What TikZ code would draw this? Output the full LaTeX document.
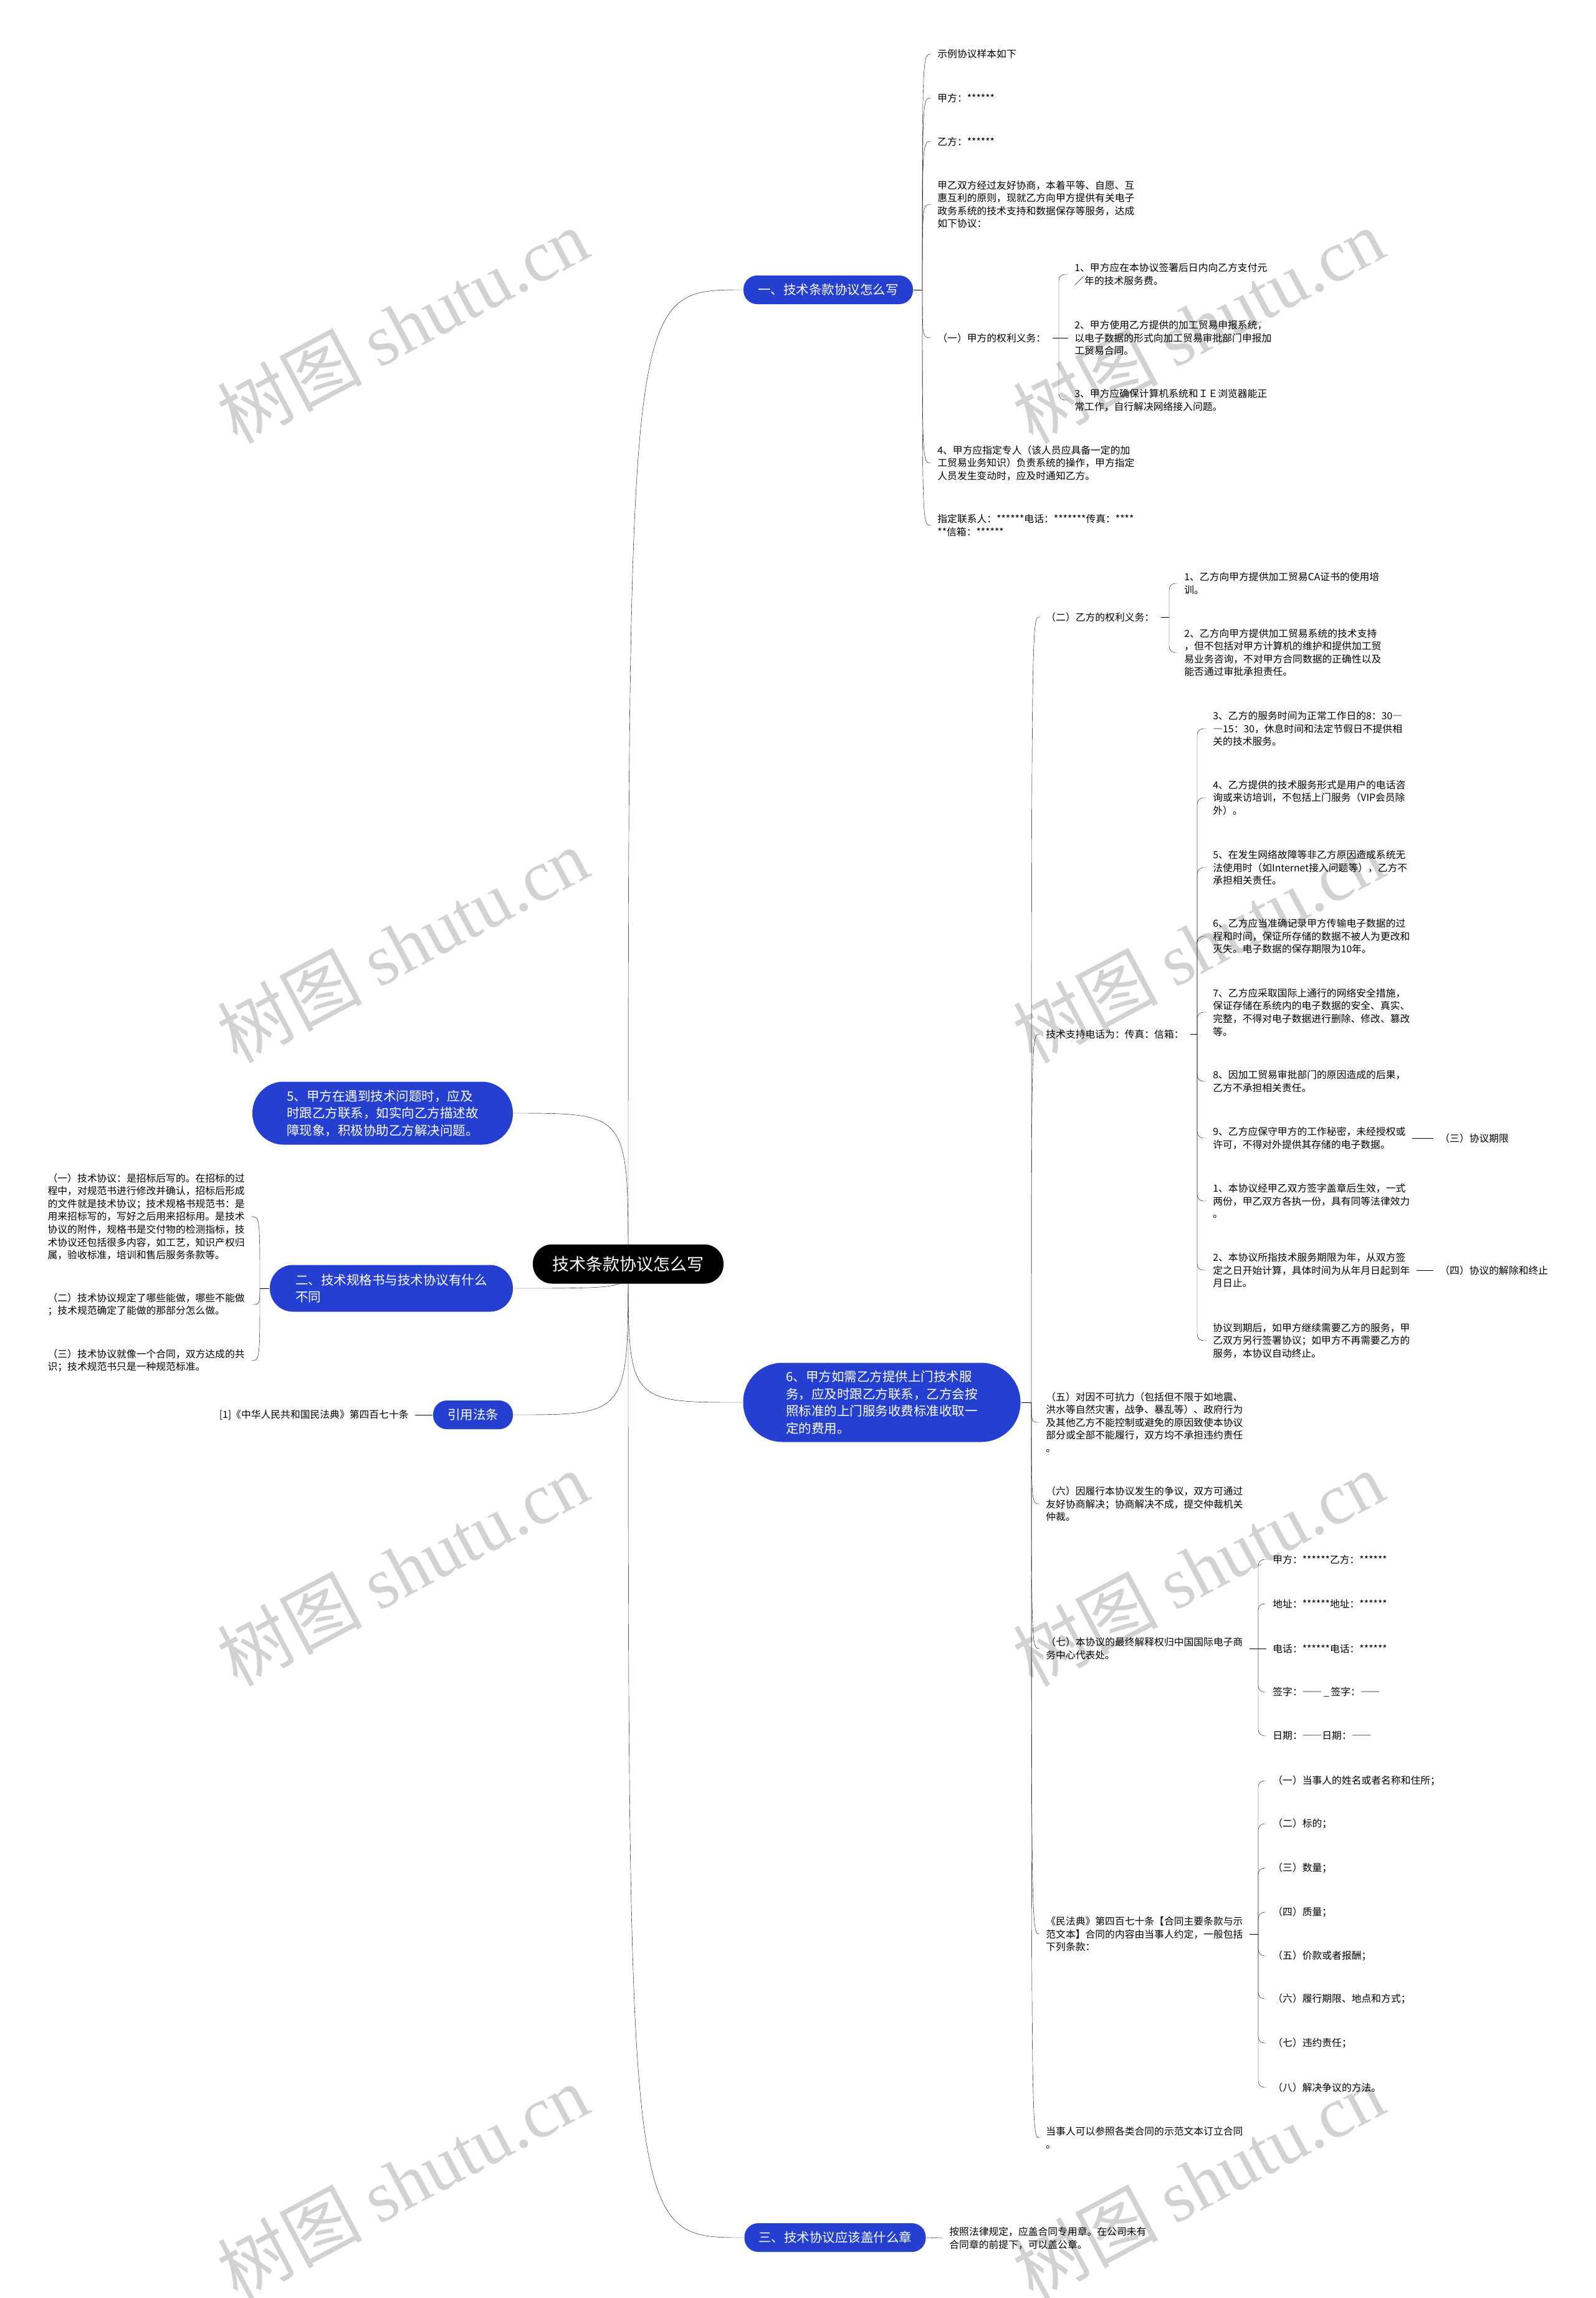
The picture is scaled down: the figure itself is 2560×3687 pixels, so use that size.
\documentclass[tikz,border=0pt]{standalone}
\usepackage{fontspec}
\setmainfont{Noto Sans CJK SC}
\newfontfamily\wmfont{Liberation Serif}
\newfontfamily\dashfont{Noto Sans CJK SC}[RawFeature=+fwid]
\usetikzlibrary{backgrounds}

\definecolor{topicblue}{RGB}{37,64,209}
\definecolor{wmgray}{RGB}{210,210,210}

\begin{document}
\begin{tikzpicture}[x=1pt,y=-1pt,line width=2.8pt,
    rootbox/.style={fill=black,text=white,font=\fontsize{27}{32}\selectfont,
      minimum width=306pt,minimum height=63pt,rounded corners=31pt,inner sep=0pt},
    topic/.style={fill=topicblue,text=white,font=\fontsize{20.5}{27.5}\selectfont,
      align=left,inner sep=0pt},
    leaf/.style={font=\fontsize{15.8}{20.6}\selectfont,align=left,
      inner xsep=9pt,inner ysep=1pt,anchor=west},
    wmark/.style={text=wmgray,font=\fontsize{116}{116}\selectfont,rotate=28,inner sep=0pt},
    arm/.style={to path={.. controls (\tikztostart|-\tikztotarget) .. (\tikztotarget)}},
    brace/.style={rounded corners=10pt,to path={|- (\tikztotarget)}}]

  % Khung
  \useasboundingbox (0,0) rectangle (2560,3687);

  % Nút gốc
  \node[rootbox] (root) at (1008,2028) {技术条款协议怎么写};

  % Các chủ đề
  \node[topic,minimum width=272pt,minimum height=46pt,rounded corners=22pt] (b1) at (1329,465) {一、技术条款协议怎么写};
  \node[topic,minimum width=418pt,minimum height=101pt,rounded corners=50pt] (b5) at (614,1786)
    {5、甲方在遇到技术问题时，应及\\时跟乙方联系，如实向乙方描述故\\障现象，积极协助乙方解决问题。};
  \node[topic,minimum width=390pt,minimum height=75pt,rounded corners=37pt] (b2) at (628,2067)
    {二、技术规格书与技术协议有什么\\不同};
  \node[topic,minimum width=128pt,minimum height=46pt,rounded corners=22pt] (bref) at (759,2270) {引用法条};
  \node[topic,minimum width=445pt,minimum height=127pt,rounded corners=63pt] (b6) at (1415,2250)
    {6、甲方如需乙方提供上门技术服\\务，应及时跟乙方联系，乙方会按\\照标准的上门服务收费标准收取一\\定的费用。};
  \node[topic,minimum width=291pt,minimum height=46pt,rounded corners=22pt] (b3) at (1340,3590) {三、技术协议应该盖什么章};

  % Nhánh một
  \coordinate (s1) at (1480,465);
  \node[leaf] (c1a) at (1494,87) {示例协议样本如下};
  \node[leaf] (c1b) at (1494,157) {甲方：******};
  \node[leaf] (c1c) at (1494,227) {乙方：******};
  \node[leaf] (c1d) at (1494,328) {甲乙双方经过友好协商，本着平等、自愿、互\\惠互利的原则，现就乙方向甲方提供有关电子\\政务系统的技术支持和数据保存等服务，达成\\如下协议：};
  \node[leaf] (c1e) at (1494,542) {（一）甲方的权利义务：};
  \node[leaf] (c1f) at (1494,743) {4、甲方应指定专人（该人员应具备一定的加\\工贸易业务知识）负责系统的操作，甲方指定\\人员发生变动时，应及时通知乙方。};
  \node[leaf] (c1g) at (1494,843) {指定联系人：******电话：*******传真：****\\{}**信箱：******};

  \coordinate (sA) at (1699,542);
  \node[leaf] (a1) at (1714,440) {1、甲方应在本协议签署后日内向乙方支付元\\／年的技术服务费。};
  \node[leaf] (a2) at (1714,542) {2、甲方使用乙方提供的加工贸易申报系统，\\以电子数据的形式向加工贸易审批部门申报加\\工贸易合同。};
  \node[leaf] (a3) at (1714,642) {3、甲方应确保计算机系统和ＩＥ浏览器能正\\常工作，自行解决网络接入问题。};

  % Nhánh sáu
  \coordinate (s6) at (1655,2250);
  \node[leaf] (c6a) at (1668,990) {（二）乙方的权利义务：};
  \node[leaf] (c6b) at (1668,1659) {技术支持电话为：传真：信箱：};
  \node[leaf] (c6c) at (1668,2282) {（五）对因不可抗力（包括但不限于如地震、\\洪水等自然灾害，战争、暴乱等）、政府行为\\及其他乙方不能控制或避免的原因致使本协议\\部分或全部不能履行，双方均不承担违约责任\\。};
  \node[leaf] (c6d) at (1668,2413) {（六）因履行本协议发生的争议，双方可通过\\友好协商解决；协商解决不成，提交仲裁机关\\仲裁。};
  \node[leaf] (c6e) at (1668,2645) {（七）本协议的最终解释权归中国国际电子商\\务中心代表处。};
  \node[leaf] (c6f) at (1668,3103) {《民法典》第四百七十条【合同主要条款与示\\范文本】合同的内容由当事人约定，一般包括\\下列条款：};
  \node[leaf] (c6g) at (1668,3430) {当事人可以参照各类合同的示范文本订立合同\\。};

  \coordinate (sB) at (1876,990);
  \node[leaf] (u1) at (1890,936) {1、乙方向甲方提供加工贸易CA证书的使用培\\训。};
  \node[leaf] (u2) at (1890,1047) {2、乙方向甲方提供加工贸易系统的技术支持\\，但不包括对甲方计算机的维护和提供加工贸\\易业务咨询，不对甲方合同数据的正确性以及\\能否通过审批承担责任。};

  \coordinate (sC) at (1921,1659);
  \node[leaf] (t3) at (1936,1169) {3、乙方的服务时间为正常工作日的8：30{\dashfont —}\\{\dashfont —}15：30，休息时间和法定节假日不提供相\\关的技术服务。};
  \node[leaf] (t4) at (1936,1280) {4、乙方提供的技术服务形式是用户的电话咨\\询或来访培训，不包括上门服务（VIP会员除\\外）。};
  \node[leaf] (t5) at (1936,1392) {5、在发生网络故障等非乙方原因造成系统无\\法使用时（如Internet接入问题等），乙方不\\承担相关责任。};
  \node[leaf] (t6) at (1936,1502) {6、乙方应当准确记录甲方传输电子数据的过\\程和时间，保证所存储的数据不被人为更改和\\灭失。电子数据的保存期限为10年。};
  \node[leaf] (t7) at (1936,1624) {7、乙方应采取国际上通行的网络安全措施，\\保证存储在系统内的电子数据的安全、真实、\\完整，不得对电子数据进行删除、修改、篡改\\等。};
  \node[leaf] (t8) at (1936,1735) {8、因加工贸易审批部门的原因造成的后果，\\乙方不承担相关责任。};
  \node[leaf] (t9) at (1936,1826) {9、乙方应保守甲方的工作秘密，未经授权或\\许可，不得对外提供其存储的电子数据。};
  \node[leaf] (t10) at (1936,1927) {1、本协议经甲乙双方签字盖章后生效，一式\\两份，甲乙双方各执一份，具有同等法律效力\\。};
  \node[leaf] (t11) at (1936,2038) {2、本协议所指技术服务期限为年，从双方签\\定之日开始计算，具体时间为从年月日起到年\\月日止。};
  \node[leaf] (t12) at (1936,2151) {协议到期后，如甲方继续需要乙方的服务，甲\\乙双方另行签署协议；如甲方不再需要乙方的\\服务，本协议自动终止。};
  \node[leaf] (q3) at (2300,1826) {（三）协议期限};
  \node[leaf] (q4) at (2300,2038) {（四）协议的解除和终止};

  \coordinate (sD) at (2019,2645);
  \node[leaf] (v1) at (2032,2502) {甲方：******乙方：******};
  \node[leaf] (v2) at (2032,2573) {地址：******地址：******};
  \node[leaf] (v3) at (2032,2645) {电话：******电话：******};
  \node[leaf] (v4) at (2032,2715) {签字：{\dashfont ——}\,\_\,签字：{\dashfont ——}};
  \node[leaf] (v5) at (2032,2785) {日期：{\dashfont ——}日期：{\dashfont ——}};

  \coordinate (sE) at (2019,3103);
  \node[leaf] (k1) at (2032,2857) {（一）当事人的姓名或者名称和住所；};
  \node[leaf] (k2) at (2032,2926) {（二）标的；};
  \node[leaf] (k3) at (2032,2997) {（三）数量；};
  \node[leaf] (k4) at (2032,3068) {（四）质量；};
  \node[leaf] (k5) at (2032,3138) {（五）价款或者报酬；};
  \node[leaf] (k6) at (2032,3207) {（六）履行期限、地点和方式；};
  \node[leaf] (k7) at (2032,3278) {（七）违约责任；};
  \node[leaf] (k8) at (2032,3349) {（八）解决争议的方法。};

  % Nhánh hai (bên trái)
  \coordinate (s2) at (417,2067);
  \node[leaf,anchor=east] (l1) at (403,1952) {（一）技术协议：是招标后写的。在招标的过\\程中，对规范书进行修改并确认，招标后形成\\的文件就是技术协议；技术规格书规范书：是\\用来招标写的，写好之后用来招标用。是技术\\协议的附件，规格书是交付物的检测指标，技\\术协议还包括很多内容，如工艺，知识产权归\\属，验收标准，培训和售后服务条款等。};
  \node[leaf,anchor=east] (l2) at (403,2093) {（二）技术协议规定了哪些能做，哪些不能做\\；技术规范确定了能做的那部分怎么做。};
  \node[leaf,anchor=east] (l3) at (403,2183) {（三）技术协议就像一个合同，双方达成的共\\识；技术规范书只是一种规范标准。};

  % Điều luật và nhánh ba
  \node[leaf,anchor=east] (lref) at (666,2270) {[1]《中华人民共和国民法典》第四百七十条};
  \node[leaf] (c3) at (1513,3591) {按照法律规定，应盖合同专用章。在公司未有\\合同章的前提下，可以盖公章。};

  \begin{scope}[on background layer]
    % Nền và chữ chìm
    \fill[white] (0,0) rectangle (2560,3687);
    \node[wmark] at (646,522) {树图 {\wmfont shutu.cn}};
    \node[wmark] at (1923,522) {树图 {\wmfont shutu.cn}};
    \node[wmark] at (646,1516) {树图 {\wmfont shutu.cn}};
    \node[wmark] at (1923,1516) {树图 {\wmfont shutu.cn}};
    \node[wmark] at (646,2516) {树图 {\wmfont shutu.cn}};
    \node[wmark] at (1923,2516) {树图 {\wmfont shutu.cn}};
    \node[wmark] at (646,3500) {树图 {\wmfont shutu.cn}};
    \node[wmark] at (1923,3500) {树图 {\wmfont shutu.cn}};

    % Đường nối từ gốc
    \draw (root.center) edge[arm] (b1.west) edge[arm] (b5.east) edge[arm] (b2.east)
      edge[arm] (bref.east) edge[arm] (b6.west) edge[arm] (b3.west);

    % Đường nối nhánh một
    \draw (b1.east) -- (s1);
    \draw (s1) edge[arm] (c1a.west) edge[arm] (c1b.west) edge[arm] (c1c.west) edge[arm] (c1d.west)
      edge[arm] (c1e.west) edge[arm] (c1f.west) edge[arm] (c1g.west);
    \draw (c1e.east) -- (sA) -- (a2.west);
    \draw (sA) edge[brace] (a1.west) edge[brace] (a3.west);

    % Đường nối nhánh sáu
    \draw (b6.east) -- (s6);
    \draw (s6) edge[arm] (c6a.west) edge[arm] (c6b.west) edge[arm] (c6c.west) edge[arm] (c6d.west)
      edge[arm] (c6e.west) edge[arm] (c6f.west) edge[arm] (c6g.west);
    \draw (c6a.east) -- (sB);
    \draw (sB) edge[brace] (u1.west) edge[brace] (u2.west);
    \draw (c6b.east) -- (sC);
    \draw (sC) edge[brace] (t3.west) edge[brace] (t4.west) edge[brace] (t5.west) edge[brace] (t6.west)
      edge[brace] (t7.west) edge[brace] (t8.west) edge[brace] (t9.west) edge[brace] (t10.west)
      edge[brace] (t11.west) edge[brace] (t12.west);
    \draw (t9.east) -- (q3.west);
    \draw (t11.east) -- (q4.west);
    \draw (c6e.east) -- (sD) -- (v3.west);
    \draw (sD) edge[brace] (v1.west) edge[brace] (v2.west) edge[brace] (v4.west) edge[brace] (v5.west);
    \draw (c6f.east) -- (sE);
    \draw (sE) edge[brace] (k1.west) edge[brace] (k2.west) edge[brace] (k3.west) edge[brace] (k4.west)
      edge[brace] (k5.west) edge[brace] (k6.west) edge[brace] (k7.west) edge[brace] (k8.west);

    % Đường nối nhánh hai, điều luật, nhánh ba
    \draw (b2.west) -- (s2);
    \draw (s2) edge[arm] (l1.east) edge[arm] (l2.east) edge[arm] (l3.east);
    \draw (bref.west) -- (lref.east);
    \draw (b3.east) -- (c3.west);
  \end{scope}
\end{tikzpicture}
\end{document}
